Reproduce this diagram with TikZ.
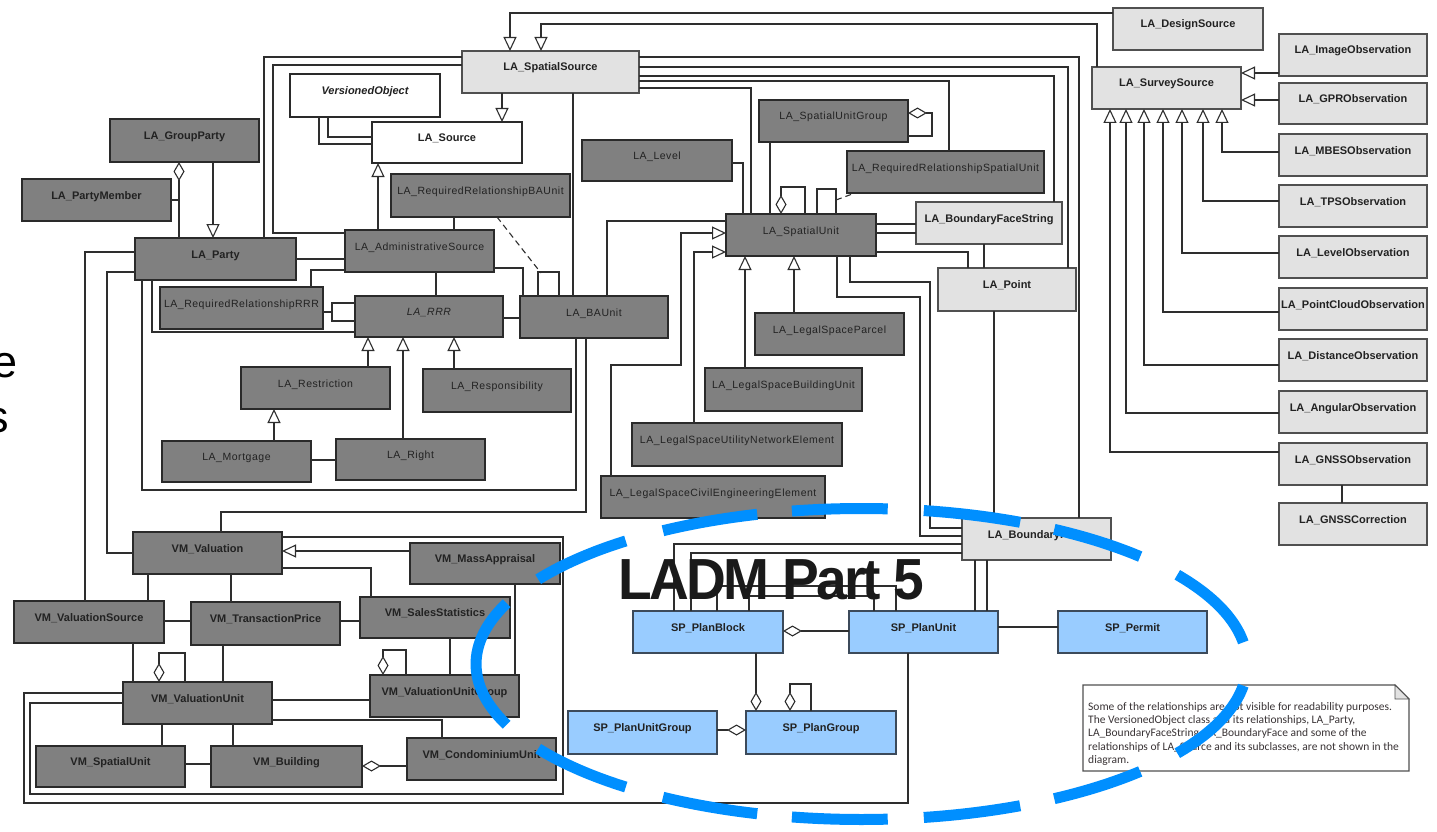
\documentclass[tikz,border=0pt]{standalone}
\usepackage{fontspec}
\usepackage{graphicx}
\setmainfont{Liberation Sans}
\newfontfamily\regf[LetterSpace=5]{Liberation Sans}
\newfontfamily\notef{Carlito}
\newfontfamily\titlef[LetterSpace=-5]{Liberation Sans}
\usetikzlibrary{arrows.meta}
\definecolor{dkfill}{HTML}{808080}
\definecolor{dkdraw}{HTML}{2A2A2A}
\definecolor{ltfill}{HTML}{E2E2E2}
\definecolor{ltdraw}{HTML}{505050}
\definecolor{blfill}{HTML}{99CCFF}
\definecolor{bldraw}{HTML}{3C4A5A}
\definecolor{txt}{HTML}{222222}
\definecolor{lncol}{HTML}{2E2E2E}
\definecolor{ladmblue}{HTML}{008FFF}
\definecolor{notetxt}{HTML}{3A3436}
\definecolor{titlecol}{HTML}{1A1A1A}
\newcommand\umlbox[7]{%
  \node[#2, minimum width={(#5)-(#3)}, minimum height={(#6)-(#4)}] (#1) at ({((#3)+(#5))/2},{((#4)+(#6))/2}) {#7};}
\begin{document}
\begin{tikzpicture}[x=1pt,y=-1pt,
  cls/.style={draw, line width=1.2pt, inner sep=0pt, outer sep=0pt, text height=8pt, text depth=10pt, text=txt, font=\fontsize{11}{13}\selectfont\bfseries},
  dk/.style={cls, fill=dkfill, draw=dkdraw},
  lt/.style={cls, fill=ltfill, draw=ltdraw},
  wt/.style={cls, fill=white, draw=dkdraw},
  bl/.style={cls, fill=blfill, draw=bldraw},
  rg/.style={font=\fontsize{10.5}{13}\regf},
  itl/.style={font=\fontsize{10.5}{13}\regf\itshape},
  bit/.style={font=\fontsize{11}{13}\selectfont\bfseries\itshape},
  ln/.style={draw=lncol, line width=1.1pt},
  gen/.style={ln, -{Triangle[open, length=14pt, width=13pt, fill=white]}},
  agg/.style={ln, {Diamond[open, length=19pt, width=11pt, fill=white]}-},
  dsh/.style={ln, dash pattern=on 6pt off 4pt},
  bluedash/.style={draw=ladmblue, line width=11pt, line cap=butt},
]
\fill[white] (0,0) rectangle (1437,832);
\useasboundingbox (0,0) rectangle (1437,832);

% ---------- classes ----------
\umlbox{DesignSource}{lt}{1113}{8}{1263}{50}{LA\_DesignSource}
\umlbox{SpSource}{lt}{462}{51}{639}{93}{LA\_SpatialSource}
\umlbox{SurveySource}{lt}{1092}{67}{1241}{109}{LA\_SurveySource}
\umlbox{ImageObs}{lt}{1279}{34}{1427}{76}{LA\_ImageObservation}
\umlbox{GPRObs}{lt}{1279}{83}{1427}{124}{LA\_GPRObservation}
\umlbox{MBESObs}{lt}{1279}{134}{1427}{176}{LA\_MBESObservation}
\umlbox{TPSObs}{lt}{1279}{185}{1427}{227}{LA\_TPSObservation}
\umlbox{LevelObs}{lt}{1279}{236}{1427}{278}{LA\_LevelObservation}
\umlbox{PCObs}{lt}{1279}{288}{1427}{330}{LA\_PointCloudObservation}
\umlbox{DistObs}{lt}{1279}{339}{1427}{381}{LA\_DistanceObservation}
\umlbox{AngObs}{lt}{1279}{391}{1427}{433}{LA\_AngularObservation}
\umlbox{GNSSObs}{lt}{1279}{443}{1427}{485}{LA\_GNSSObservation}
\umlbox{GNSSCorr}{lt}{1279}{503}{1427}{545}{LA\_GNSSCorrection}
\umlbox{VersionedObject}{wt,bit}{290}{74}{440}{117}{VersionedObject}
\umlbox{Source}{wt}{372}{122}{522}{163}{LA\_Source}
\umlbox{GroupParty}{dk}{110}{119}{259}{162}{LA\_GroupParty}
\umlbox{PartyMember}{dk}{22}{179}{171}{221}{LA\_PartyMember}
\umlbox{Party}{dk}{135}{238}{296}{280}{LA\_Party}
\umlbox{AdminSource}{dk,rg}{345}{230}{494}{272}{LA\_AdministrativeSource}
\umlbox{RRBAUnit}{dk,rg}{391}{174}{570}{217}{LA\_RequiredRelationshipBAUnit}
\umlbox{RRRRR}{dk,rg}{160}{287}{323}{329}{LA\_RequiredRelationshipRRR}
\umlbox{RRR}{dk,itl}{355}{296}{503}{337}{LA\_RRR}
\umlbox{BAUnit}{dk,rg}{520}{296}{668}{338}{LA\_BAUnit}
\umlbox{Restriction}{dk,rg}{241}{367}{390}{409}{LA\_Restriction}
\umlbox{Responsibility}{dk,rg}{423}{369}{571}{412}{LA\_Responsibility}
\umlbox{Mortgage}{dk,rg}{162}{441}{311}{482}{LA\_Mortgage}
\umlbox{Right}{dk,rg}{336}{439}{485}{480}{LA\_Right}
\umlbox{Level}{dk,rg}{582}{140}{732}{181}{LA\_Level}
\umlbox{SUGroup}{dk,rg}{759}{100}{908}{142}{LA\_SpatialUnitGroup}
\umlbox{RRSU}{dk,rg}{847}{151}{1044}{193}{LA\_RequiredRelationshipSpatialUnit}
\umlbox{SU}{dk,rg}{726}{214}{876}{256}{LA\_SpatialUnit}
\umlbox{BFS}{lt}{916}{202}{1062}{244}{LA\_BoundaryFaceString}
\umlbox{Point}{lt}{938}{268}{1076}{311}{LA\_Point}
\umlbox{Parcel}{dk,rg}{755}{313}{904}{355}{LA\_LegalSpaceParcel}
\umlbox{BuildingUnit}{dk,rg}{705}{368}{862}{411}{LA\_LegalSpaceBuildingUnit}
\umlbox{UtilityNE}{dk,rg}{632}{423}{842}{466}{LA\_LegalSpaceUtilityNetworkElement}
\umlbox{CivilEE}{dk,rg}{601}{476}{825}{518}{LA\_LegalSpaceCivilEngineeringElement}
\umlbox{BF}{lt}{962}{518}{1111}{560}{LA\_BoundaryFace}
\umlbox{Valuation}{dk}{133}{532}{282}{574}{VM\_Valuation}
\umlbox{MassAppraisal}{dk}{410}{543}{560}{584}{VM\_MassAppraisal}
\umlbox{ValuationSource}{dk}{14}{601}{164}{643}{VM\_ValuationSource}
\umlbox{TransactionPrice}{dk}{191}{602}{340}{645}{VM\_TransactionPrice}
\umlbox{SalesStatistics}{dk}{360}{597}{510}{638}{VM\_SalesStatistics}
\umlbox{ValuationUnit}{dk}{123}{682}{272}{724}{VM\_ValuationUnit}
\umlbox{VUG}{dk}{370}{675}{519}{717}{VM\_ValuationUnitGroup}
\umlbox{VMSpatialUnit}{dk}{36}{746}{185}{787}{VM\_SpatialUnit}
\umlbox{Building}{dk}{211}{746}{362}{787}{VM\_Building}
\umlbox{Condo}{dk}{407}{738}{556}{780}{VM\_CondominiumUnit}
\umlbox{PlanBlock}{bl}{633}{611}{783}{653}{SP\_PlanBlock}
\umlbox{PlanUnit}{bl}{849}{611}{998}{653}{SP\_PlanUnit}
\umlbox{Permit}{bl}{1058}{611}{1207}{653}{SP\_Permit}
\umlbox{PlanUnitGroup}{bl}{568}{711}{717}{754}{SP\_PlanUnitGroup}
\umlbox{PlanGroup}{bl}{746}{711}{896}{754}{SP\_PlanGroup}

% ---------- connectors: sources ----------
\draw[gen] (DesignSource.west |- 0,13) -| (SpSource.north -| 510,0);
\draw[gen] (SurveySource.north -| 1097,0) |- (541,24) -- (SpSource.north -| 541,0);
\draw[gen] (SpSource.south -| 502,0) -- (Source.north -| 502,0);
\draw[ln] (SpSource.west |- 0,57) -| (Party.north -| 264,0);
\draw[ln] (SpSource.west |- 0,65) -| (273,233) -- (AdminSource.west |- 0,233);
\draw[ln] (SpSource.south -| 573,0) -- (BAUnit.north -| 573,0);
\draw[ln] (SpSource.east |- 0,57) -| (BF.north -| 1079,0);
\draw[ln] (SpSource.east |- 0,67) -| (Point.north -| 1068,0);
\draw[ln] (SpSource.east |- 0,76) -| (BFS.north -| 1054,0);
\draw[ln] (SpSource.east |- 0,81) -| (RRSU.north -| 949,0);
\draw[ln] (SpSource.east |- 0,88) -| (SU.north -| 751,0);
\draw[ln] (VersionedObject.south -| 319,0) |- (Source.west |- 0,144);
\draw[ln] (VersionedObject.south -| 328,0) |- (Source.west |- 0,137);
\draw[gen] (AdminSource.north -| 378,0) -- (Source.south -| 378,0);
\draw[ln] (RRBAUnit.south -| 454,0) -- (AdminSource.north -| 454,0);

% ---------- party / rrr ----------
\draw[agg] (GroupParty.south -| 179,0) -- (Party.north -| 179,0);
\coordinate (pmlink) at (179,200);
\draw[ln] (PartyMember.east |- pmlink) -- (pmlink);
\draw[gen] (GroupParty.south -| 213,0) -- (Party.north -| 213,0);
\draw[ln] (Party.east |- 0,259) -- (AdminSource.west |- 0,259);
\draw[ln] (AdminSource.west |- 0,270) -| (RRRRR.north -| 311,0);
\draw[ln] (AdminSource.south -| 436,0) -- (RRR.north -| 436,0);
\draw[ln] (AdminSource.east |- 0,268) -| (BAUnit.north -| 523,0);
\draw[ln] (BAUnit.north -| 538,0) |- (559,272) -- (BAUnit.north -| 559,0);
\coordinate (balink) at (541,273);
\draw[dsh] (RRBAUnit.south -| 497,0) -- (balink);
\draw[ln] (RRR.east |- 0,318) -- (BAUnit.west |- 0,318);
\draw[ln] (RRR.west |- 0,303) -| (332,321) -- (RRR.west |- 0,321);
\coordinate (rrrlink) at (332,312);
\draw[ln] (RRRRR.east |- rrrlink) -- (rrrlink);
\draw[ln] (Party.south -| 152,0) |- (RRR.west |- 0,332);
\draw[ln] (Party.south -| 142,0) |- (576,490) -- (BAUnit.south -| 576,0);
\draw[ln] (Party.west |- 0,252) -| (ValuationSource.north -| 85,0);
\draw[ln] (Party.west |- 0,272) -| (107,553) -- (Valuation.west |- 0,553);
\draw[ln] (BAUnit.south -| 586,0) |- (221,512) -- (Valuation.north -| 221,0);
\draw[gen] (Restriction.north -| 368,0) -- (RRR.south -| 368,0);
\draw[gen] (Right.north -| 403,0) -- (RRR.south -| 403,0);
\draw[gen] (Responsibility.north -| 454,0) -- (RRR.south -| 454,0);
\draw[gen] (Mortgage.north -| 274,0) -- (Restriction.south -| 274,0);
\draw[ln] (Mortgage.east |- 0,460) -- (Right.west |- 0,460);

% ---------- spatial unit ----------
\draw[ln] (Level.east |- 0,163) -| (SU.north -| 743,0);
\draw[ln] (SUGroup.south -| 770,0) -- (SU.north -| 770,0);
\draw[agg] (SUGroup.east |- 0,113) -- (932,113) |- (SUGroup.east |- 0,136);
\draw[agg] (SU.north -| 781,0) -- (781,187) -| (SU.north -| 805,0);
\draw[ln] (SU.north -| 817,0) |- (836,189) -- (SU.north -| 836,0);
\coordinate (sulink) at (836,200);
\draw[dsh] (sulink) -- (RRSU.south -| 855,0);
\draw[ln] (BAUnit.north -| 607,0) |- (SU.west |- 0,221);
\draw[gen] (CivilEE.north -| 611,0) |- (681,365) |- (SU.west |- 0,233);
\draw[gen] (UtilityNE.north -| 694,0) |- (SU.west |- 0,252);
\draw[gen] (BuildingUnit.north -| 745,0) -- (SU.south -| 745,0);
\draw[gen] (Parcel.north -| 794,0) -- (SU.south -| 794,0);
\draw[ln] (SU.east |- 0,224) -- (BFS.west |- 0,224);
\draw[ln] (SU.east |- 0,233) -- (BFS.west |- 0,233);
\draw[ln] (SU.east |- 0,252) -| (Point.north -| 968,0);
\draw[ln] (BFS.south -| 984,0) -- (Point.north -| 984,0);
\draw[ln] (SU.south -| 837,0) |- (920,297) |- (BF.west |- 0,536);
\draw[ln] (SU.south -| 850,0) |- (930,282) |- (BF.west |- 0,528);
\draw[ln] (Point.south -| 994,0) -- (BF.north -| 994,0);

% ---------- observations ----------
\draw[gen] (ImageObs.west |- 0,73) -- (SurveySource.east |- 0,73);
\draw[gen] (GPRObs.west |- 0,100) -- (SurveySource.east |- 0,100);
\draw[gen] (MBESObs.west |- 0,152) -| (SurveySource.south -| 1222,0);
\draw[gen] (TPSObs.west |- 0,201) -| (SurveySource.south -| 1203,0);
\draw[gen] (LevelObs.west |- 0,253) -| (SurveySource.south -| 1182,0);
\draw[gen] (PCObs.west |- 0,312) -| (SurveySource.south -| 1163,0);
\draw[gen] (DistObs.west |- 0,365) -| (SurveySource.south -| 1144,0);
\draw[gen] (AngObs.west |- 0,413) -| (SurveySource.south -| 1126,0);
\draw[gen] (GNSSObs.west |- 0,452) -| (SurveySource.south -| 1110,0);
\draw[ln] (GNSSObs.south -| 1342,0) -- (GNSSCorr.north -| 1342,0);

% ---------- valuation ----------
\draw[gen] (MassAppraisal.west |- 0,551) -- (Valuation.east |- 0,551);
\draw[ln] (Valuation.east |- 0,568) -| (SalesStatistics.north -| 371,0);
\draw[ln] (Valuation.south -| 148,0) -- (ValuationSource.north -| 148,0);
\draw[ln] (Valuation.south -| 231,0) -- (TransactionPrice.north -| 231,0);
\draw[ln] (ValuationSource.east |- 0,621) -- (TransactionPrice.west |- 0,621);
\draw[ln] (TransactionPrice.east |- 0,621) -- (SalesStatistics.west |- 0,621);
\draw[ln] (ValuationSource.south -| 133,0) -- (ValuationUnit.north -| 133,0);
\draw[agg] (ValuationUnit.north -| 159,0) -- (159,653) -| (ValuationUnit.north -| 185,0);
\draw[ln] (TransactionPrice.south -| 223,0) -- (ValuationUnit.north -| 223,0);
\draw[ln] (SalesStatistics.south -| 450,0) -- (VUG.north -| 450,0);
\draw[ln] (MassAppraisal.south -| 515,0) -- (VUG.north -| 515,0);
\draw[agg] (VUG.north -| 383,0) -- (383,650) -| (VUG.north -| 406,0);
\draw[ln] (ValuationUnit.east |- 0,700) -- (VUG.west |- 0,700);
\draw[ln] (ValuationUnit.east |- 0,720) -| (Condo.north -| 442,0);
\draw[ln] (ValuationUnit.south -| 162,0) -- (VMSpatialUnit.north -| 162,0);
\draw[ln] (ValuationUnit.south -| 233,0) -- (Building.north -| 233,0);
\draw[ln] (VMSpatialUnit.east |- 0,764) -- (Building.west |- 0,764);
\draw[agg] (Building.east |- 0,766) -- (Condo.west |- 0,766);
\draw[ln] (Valuation.east |- 0,537) -| (563,794) -| (30,703) -- (ValuationUnit.west |- 0,703);
\draw[ln] (ValuationUnit.west |- 0,693) -| (24,803) -| (PlanUnit.south -| 908,0);

% ---------- survey plan ----------
\draw[agg] (PlanBlock.east |- 0,631) -- (PlanUnit.west |- 0,631);
\draw[ln] (PlanUnit.east |- 0,627) -- (Permit.west |- 0,627);
\draw[agg] (PlanGroup.north -| 756,0) -- (PlanBlock.south -| 756,0);
\draw[agg] (PlanGroup.north -| 790,0) -- (790,684) -| (PlanGroup.north -| 811,0);
\draw[agg] (PlanGroup.west |- 0,730) -- (PlanUnitGroup.east |- 0,730);
\draw[ln] (BF.west |- 0,544) -| (PlanBlock.north -| 674,0);
\draw[ln] (BF.west |- 0,553) -| (PlanBlock.north -| 691,0);
\draw[ln] (BF.south -| 975,0) -- (PlanUnit.north -| 975,0);
\draw[ln] (BF.south -| 987,0) -- (PlanUnit.north -| 987,0);
\draw[ln] (PlanBlock.north -| 717,0) |- (896,586) -- (PlanUnit.north -| 896,0);
\draw[ln] (PlanBlock.north -| 749,0) |- (874,596) -- (PlanUnit.north -| 874,0);

% ---------- note ----------
\node[minimum width=326pt, minimum height=86pt, inner sep=0pt, outer sep=0pt] (Note) at (1246,728) {};
\draw[line width=1.1pt, draw=ltdraw, fill=white] (Note.north west) -- ([xshift=-14pt]Note.north east) -- ([yshift=-14pt]Note.north east) -- (Note.south east) -- (Note.south west) -- cycle;
\draw[line width=0.9pt, draw=ltdraw, fill=ltfill] ([xshift=-14pt]Note.north east) -- ([xshift=-14pt,yshift=-14pt]Note.north east) -- ([yshift=-14pt]Note.north east) -- cycle;
\node[anchor=north west, inner sep=0pt, align=left, text=notetxt, font=\fontsize{11.5}{13.3}\notef] (NoteText) at (1088,702) {Some of the relationships are not visible for readability purposes.\\The VersionedObject class and its relationships, LA\_Party,\\LA\_BoundaryFaceString, LA\_BoundaryFace and some of the\\relationships of LA\_Source and its subclasses, are not shown in the\\diagram.};

% ---------- title and fragments ----------
\node[anchor=base, inner sep=0pt, text=titlecol] (title) at (771.5,599) {\scalebox{0.95}[1]{\fontsize{58}{58}\titlef\bfseries LADM Part 5}};
\node[anchor=base east, inner sep=0pt, text=black, font=\fontsize{45}{45}\selectfont] (frage) at (18,377) {e};
\node[anchor=base east, inner sep=0pt, text=black, font=\fontsize{45}{45}\selectfont] (frags) at (9,432) {s};

% ---------- blue dashed ellipse (explicit dashes) ----------
\foreach \a/\b in {8/35, 43.7/60, 65.7/80.7, 86.1/100.4, 105.7/121, 127.7/147, 157/203, 213/232.3, 239/254.3, 259.6/273.9, 279.3/294.3, 300/316.3, 325/352}{
  \draw[bluedash] plot[domain=\a:\b, samples=30, smooth] ({861.5+385.5*cos(\x)},{664-155.5*sin(\x)});
}
\end{tikzpicture}
\end{document}
